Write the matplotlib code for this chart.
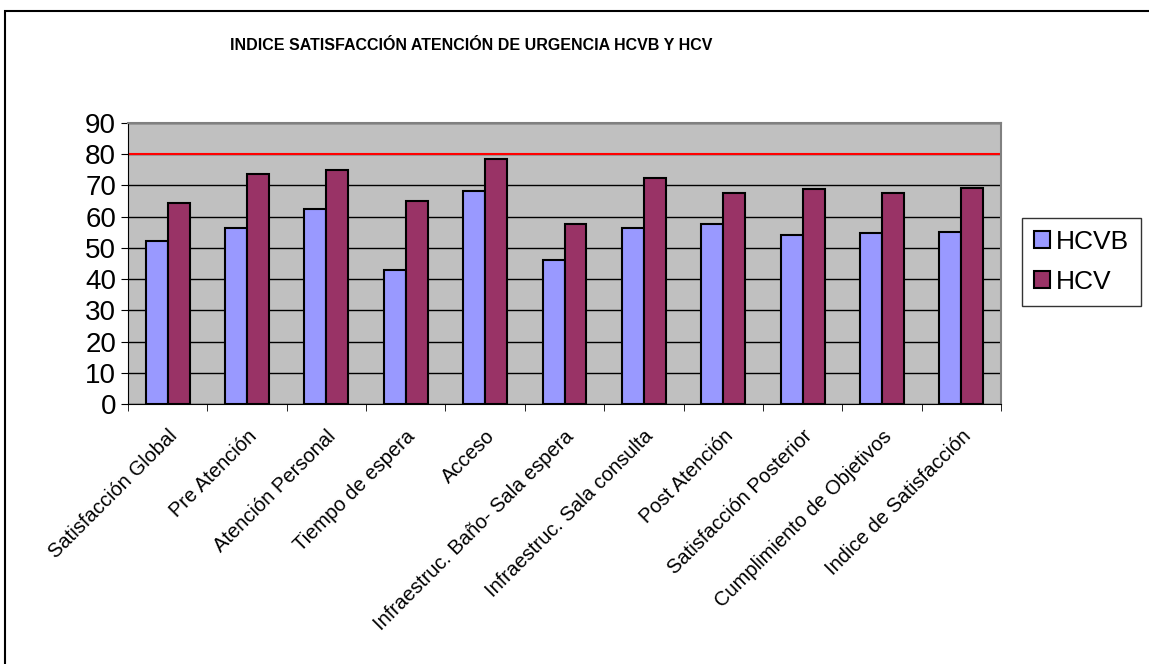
import matplotlib.pyplot as plt
import numpy as np
from matplotlib.patches import Rectangle

categorias = ['Satisfacción Global', 'Pre Atención', 'Atención Personal', 'Tiempo de espera',
              'Acceso', 'Infraestruc. Baño- Sala espera', 'Infraestruc. Sala consulta',
              'Post Atención', 'Satisfacción Posterior', 'Cumplimiento de Objetivos',
              'Indice de Satisfacción']
hcvb = [52.2, 56.5, 62.5, 43.0, 68.1, 46.0, 56.5, 57.6, 54.0, 54.6, 55.2]
hcv = [64.3, 73.6, 74.8, 65.1, 78.4, 57.6, 72.3, 67.5, 68.7, 67.5, 69.2]
meta = 80

plt.rcParams['font.family'] = ['Liberation Sans', 'DejaVu Sans']

fig = plt.figure(figsize=(11.49, 6.64), dpi=100)
ax = fig.add_axes([128/1149, 1-404.3/664, 873/1149, 281.6/664])
ax.set_facecolor('#C0C0C0')

x = np.arange(len(categorias))
w = 0.277
ax.bar(x - w/2, hcvb, w, color='#9999FF', edgecolor='black', linewidth=1.5, label='HCVB', zorder=3)
ax.bar(x + w/2, hcv, w, color='#993366', edgecolor='black', linewidth=1.5, label='HCV', zorder=3)
ax.axhline(meta, color='#FF0000', linewidth=1.5, zorder=2)

ax.set_xlim(-0.5, len(categorias) - 0.5)
ax.set_ylim(0, 90)
ax.set_yticks(range(0, 91, 10))
ax.tick_params(axis='y', labelsize=20, length=5, direction='out')
ax.yaxis.grid(True, color='black', linewidth=1, zorder=1)
ax.set_axisbelow(True)

ax.set_xticks(x)
ax.set_xticklabels(categorias, rotation=45, ha='right', rotation_mode='anchor', fontsize=14.5)
ax.tick_params(axis='x', which='major', length=0, pad=16)
ax.set_xticks(np.arange(-0.5, len(categorias), 1), minor=True)
ax.tick_params(axis='x', which='minor', length=5, direction='out')

for s in ['left', 'bottom']:
    ax.spines[s].set_color('black')
for s in ['top', 'right']:
    ax.spines[s].set_color('#808080')
    ax.spines[s].set_linewidth(1.5)

fig.text(471/1149, 1-45/664, 'INDICE SATISFACCIÓN ATENCIÓN DE URGENCIA HCVB Y HCV',
         ha='center', va='center', fontsize=11.5, fontweight='bold')

leg = fig.legend(loc='upper left', bbox_to_anchor=(1022/1149, 1-218/664), fontsize=19,
                 frameon=True, fancybox=False, edgecolor='black', handlelength=0.6,
                 handleheight=0.6, handletextpad=0.25, borderpad=0.45, labelspacing=0.6,
                 borderaxespad=0)
leg.get_frame().set_linewidth(1)

fig.patches.append(Rectangle((5/1149, -0.1), 1.2, 1-11/664+0.1, transform=fig.transFigure,
                             fill=False, edgecolor='black', linewidth=1.5))

fig.savefig('out.png', dpi=100)
